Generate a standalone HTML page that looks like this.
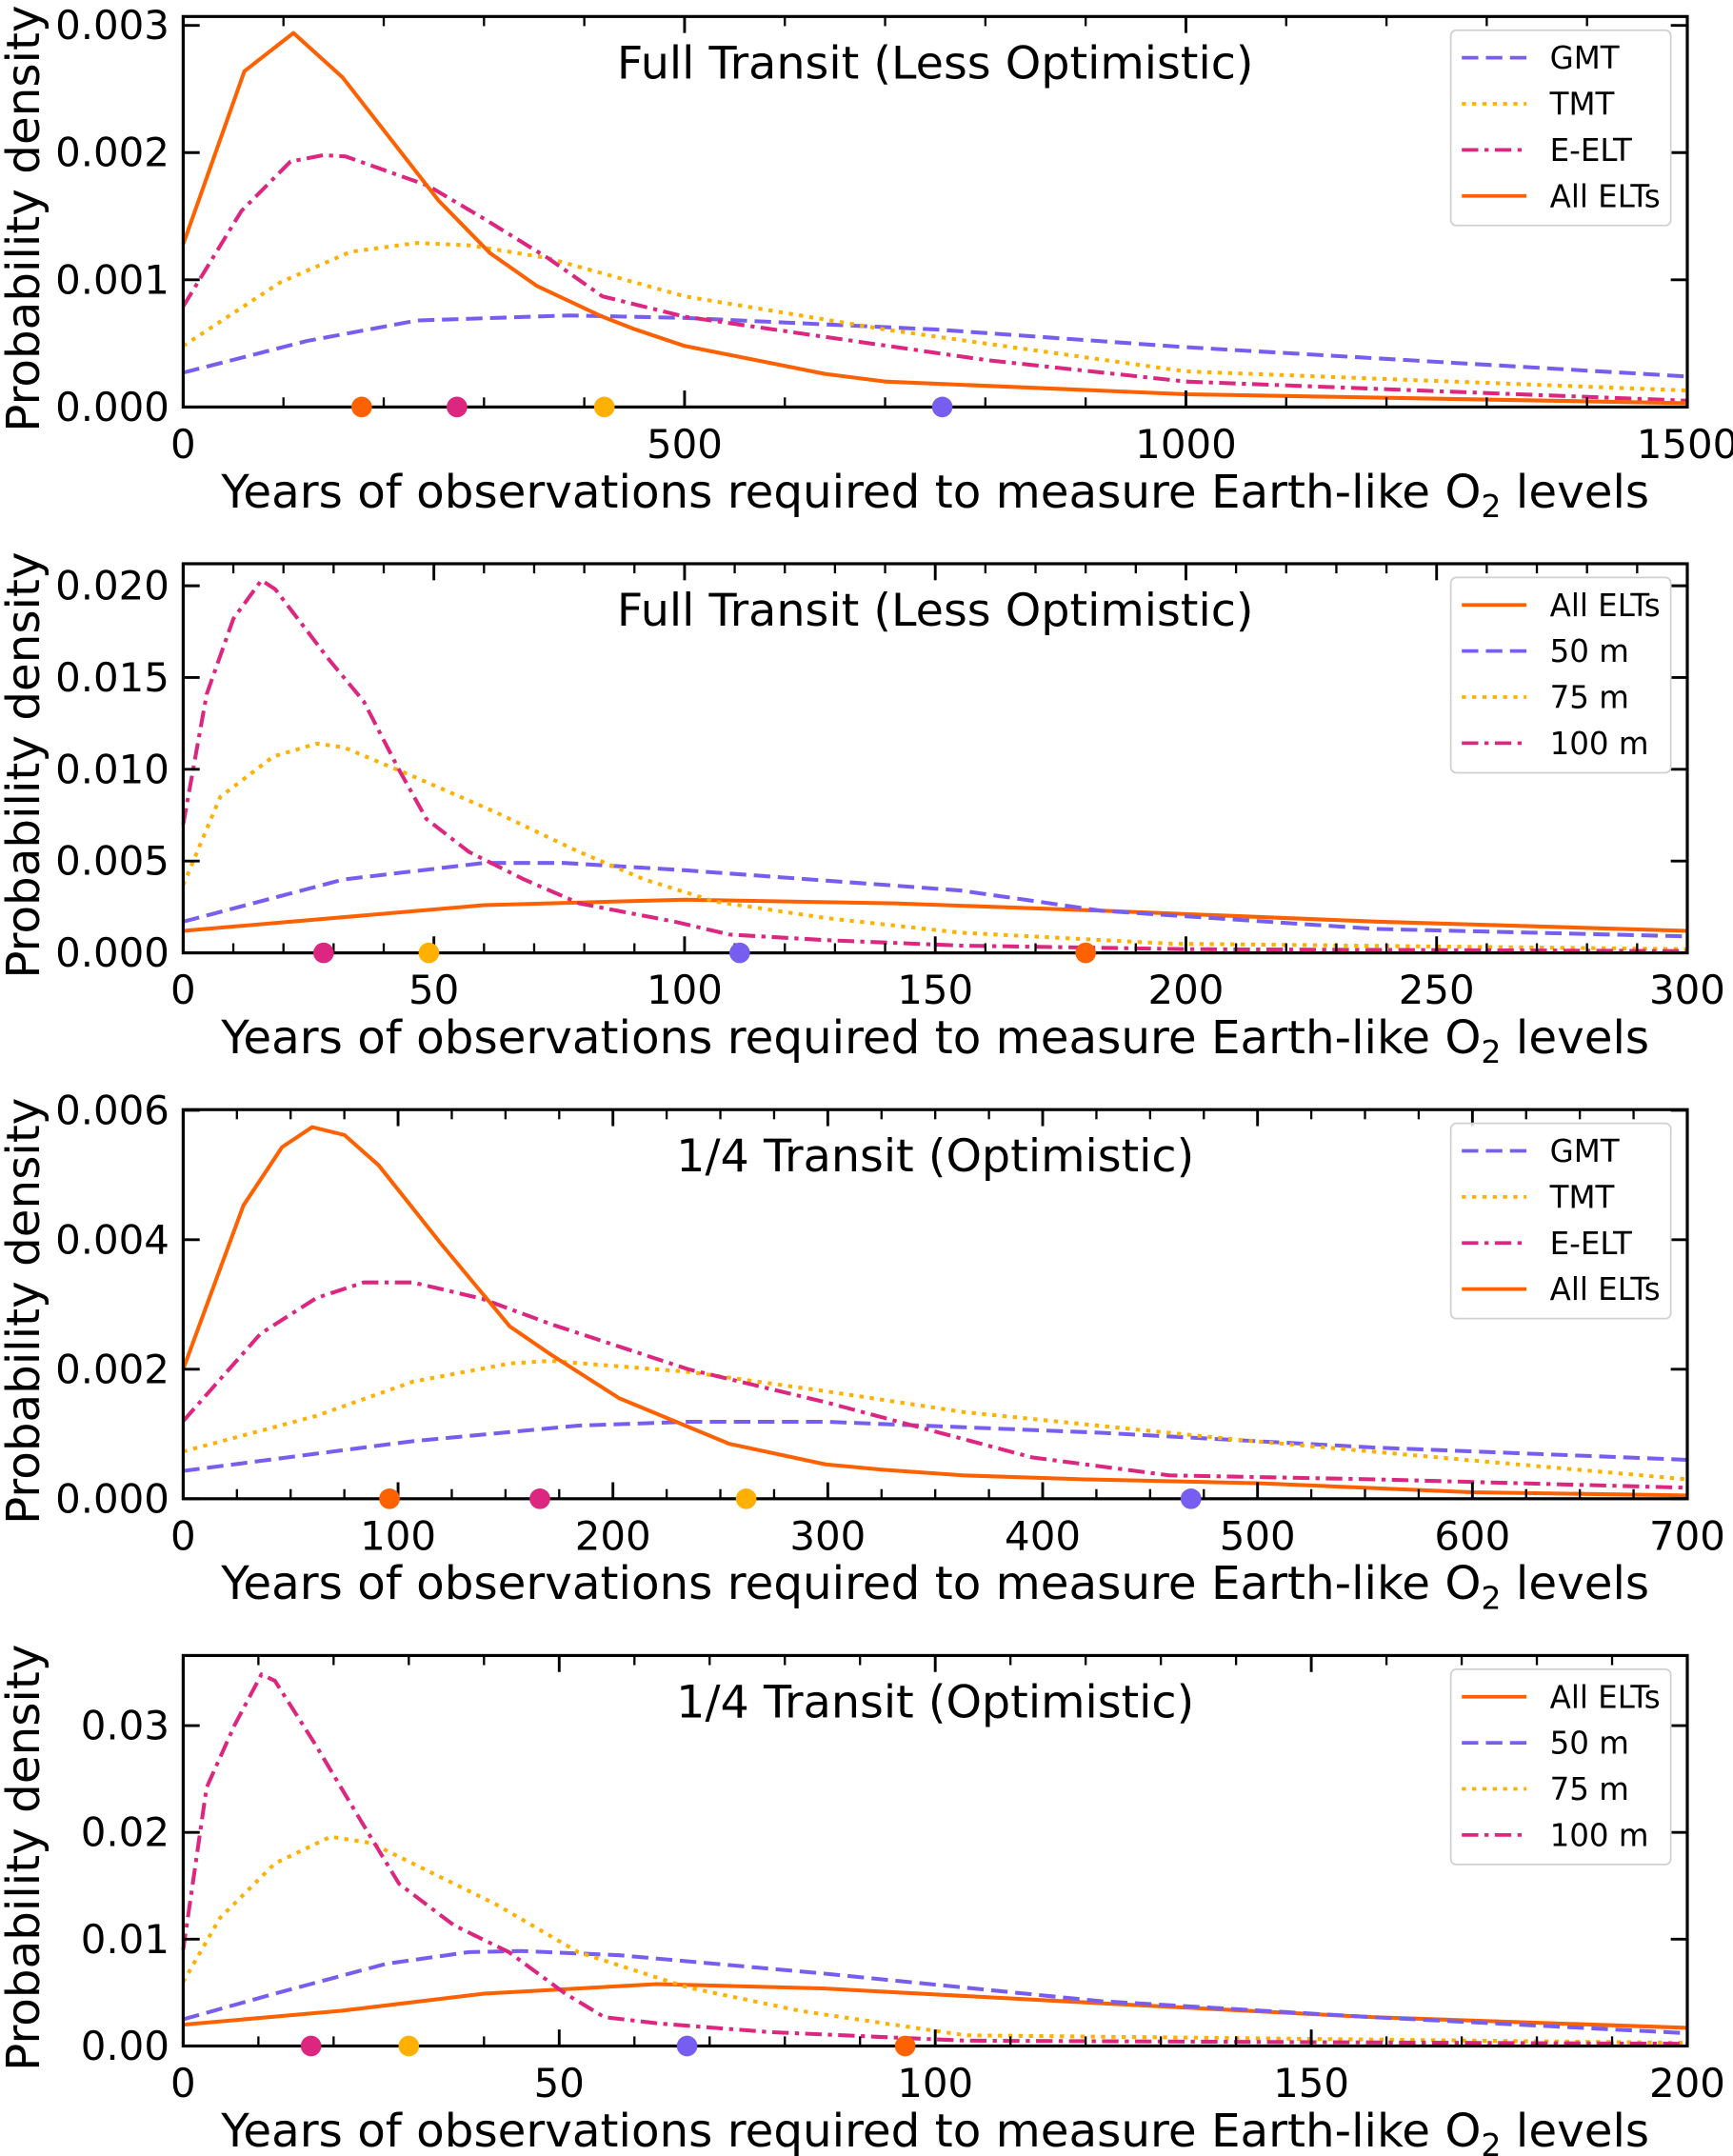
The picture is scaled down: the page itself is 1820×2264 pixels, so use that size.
<!DOCTYPE html>
<html><head><meta charset="utf-8">
<style>
html,body{margin:0;padding:0;background:#fff;}
svg{display:block;font-family:"DejaVu Sans","Liberation Sans",sans-serif;}
</style></head>
<body>
<svg id="fig" width="1820" height="2264" viewBox="0 0 1260 1568" xmlns="http://www.w3.org/2000/svg"></svg>
<script>
const p1_titles = "Full Transit (Less Optimistic)";
const p1_xticks = [0,500,1000,1500];
const p1_yticks = [0,0.001,0.002,0.003];
const p1_ytickLabels = ["0.000","0.001","0.002","0.003"];
const p1_gmt_x = [0,124,233,385,500,750,1000,1500];
const p1_gmt_y = [0.00027,0.00052,0.00068,0.00072,0.0007,0.00061,0.00047,0.00024];
const p1_tmt_x = [0,97,167,233,287,364,500,700,1000,1500];
const p1_tmt_y = [0.00048,0.00098,0.00122,0.00129,0.00127,0.00117,0.00087,0.00061,0.00028,0.00013];
const p1_eelt_x = [0,58,107,140,162,244,298,364,418,500,800,1000,1500];
const p1_eelt_y = [0.00079,0.00154,0.00193,0.00198,0.00197,0.00174,0.00149,0.00117,0.00087,0.00071,0.00037,0.0002,0.00005];
const p1_all_x = [0,61,110,159,255,306,353,418,451,500,640,700,1000,1500];
const p1_all_y = [0.00128,0.00264,0.00294,0.00259,0.00162,0.00121,0.00095,0.00071,0.00061,0.00048,0.00026,0.0002,0.0001,0.00003];
const p1_markers = [178,273,420,757];

const p2_xticks = [0,50,100,150,200,250,300];
const p2_yticks = [0,0.005,0.010,0.015,0.020];
const p2_ytickLabels = ["0.000","0.005","0.010","0.015","0.020"];
const p2_all_x = [0,60,100,142,183,238,300];
const p2_all_y = [0.0012,0.0026,0.0029,0.0027,0.0023,0.0017,0.0012];
const p2_50_x = [0,32,60,76,100,155,183,238,300];
const p2_50_y = [0.0017,0.004,0.0049,0.0049,0.0045,0.0034,0.0023,0.0013,0.0009];
const p2_75_x = [0,7.4,18,26.6,32,46,62,79,92,106,128,155,197,300];
const p2_75_y = [0.0037,0.0085,0.0107,0.0114,0.0112,0.0096,0.0077,0.0055,0.004,0.0028,0.0019,0.0011,0.0005,0.0002];
const p2_100_x = [0,4.7,10,15.6,18.4,29,36,43,48.5,57,68,79,98,109,128,155,200,300];
const p2_100_y = [0.007,0.0141,0.0182,0.0203,0.0198,0.016,0.0137,0.01,0.0073,0.0055,0.004,0.0027,0.0017,0.001,0.0007,0.0004,0.0002,0.0001];
const p2_markers = [180,111,49,28];

const p3_xticks = [0,100,200,300,400,500,600,700];
const p3_yticks = [0,0.002,0.004,0.006];
const p3_ytickLabels = ["0.000","0.002","0.004","0.006"];
const p3_gmt_x = [0,107,184,235,299,427,555,700];
const p3_gmt_y = [0.00043,0.00089,0.00113,0.00119,0.00119,0.00102,0.00079,0.0006];
const p3_tmt_x = [0,62,107,152,171,235,299,363,491,700];
const p3_tmt_y = [0.00073,0.00128,0.00181,0.00209,0.00213,0.00196,0.00166,0.00134,0.00091,0.0003];
const p3_eelt_x = [0,36,62,84,107,139,171,235,299,395,459,555,700];
const p3_eelt_y = [0.0012,0.00255,0.0031,0.00334,0.00334,0.00309,0.0027,0.002,0.00149,0.00064,0.00036,0.0003,0.00017];
const p3_all_x = [0,28,46,60,75,91,120,152,171,203,254,299,325,363,420,500,600,700];
const p3_all_y = [0.002,0.00453,0.00543,0.00574,0.00562,0.00515,0.00394,0.00266,0.00223,0.00155,0.00085,0.00053,0.00045,0.00036,0.0003,0.00024,0.0001,0.00005];
const p3_markers = [96,166,262,469];

const p4_xticks = [0,50,100,150,200];
const p4_yticks = [0,0.01,0.02,0.03];
const p4_ytickLabels = ["0.00","0.01","0.02","0.03"];
const p4_all_x = [0,21,40,63,85,122,158,200];
const p4_all_y = [0.002,0.0033,0.0049,0.0058,0.0054,0.004,0.0027,0.0017];
const p4_50_x = [0,12.2,27,38,45,58,85,122,158,200];
const p4_50_y = [0.0025,0.0049,0.0077,0.0088,0.0089,0.0085,0.0068,0.0042,0.0027,0.0012];
const p4_75_x = [0,4.9,12.2,19.6,25,30.5,41.5,52.5,67,82,104,200];
const p4_75_y = [0.006,0.012,0.0171,0.0196,0.019,0.0171,0.0133,0.0088,0.0055,0.0033,0.001,0.0003];
const p4_100_x = [0,3.1,6.8,10.4,12.2,17.7,23.2,28.7,36,43.3,50.8,56,63.4,78,104,200];
const p4_100_y = [0.009,0.0242,0.03,0.0348,0.0342,0.0281,0.0216,0.0152,0.0113,0.0088,0.0049,0.0027,0.0021,0.0013,0.0005,0.0002];
const p4_markers = [96,67,30,17];

const C = {orange:"#fe6100", pink:"#dc267f", yellow:"#ffb000", blue:"#785ef0"};
const DASH = {solid:null, dashed:"12,5.5", dotted:"3,4.5", dashdot:"12,4.5,3,4.5"};
const NS = "http://www.w3.org/2000/svg";
const svg = document.getElementById('fig');
function mk(tag, attrs, parent){
  const e = document.createElementNS(NS, tag);
  for (const k in attrs) e.setAttribute(k, attrs[k]);
  (parent||svg).appendChild(e);
  return e;
}

function panel(idx, top, bottom, xmax, ymax, xticks, minorStep, yticks, ylabels, title, series, markers, legend){
  const L = 133, R = 1227;
  const g = mk('g', {});
  
  
  const X = v => L + (v / xmax) * (R - L);
  const Y = v => bottom - (v / ymax) * (bottom - top);
  series.forEach(s => {
    const pts = s.x.map((xv,i)=> X(xv).toFixed(1)+','+Y(s.y[i]).toFixed(1)).join(' ');
    const pl = mk('polyline', {points:pts, fill:'none', stroke:s.color, 'stroke-width':2.8, 'stroke-linejoin':'round'}, g);
    if (DASH[s.style]) pl.setAttribute('stroke-dasharray', DASH[s.style]);
    
    
  });
  const fr = mk('rect', {x:L, y:top, width:R-L, height:bottom-top, fill:'none', stroke:'#000', 'stroke-width':2.2}, g);
  
  
  for (let v = 0; v <= xmax + 1e-9; v += minorStep){
    mk('line', {x1:X(v), x2:X(v), y1:bottom, y2:bottom-7, stroke:'#000', 'stroke-width':1.6}, g);
    mk('line', {x1:X(v), x2:X(v), y1:top, y2:top+7, stroke:'#000', 'stroke-width':1.6}, g);
  }
  xticks.forEach(v => {
    mk('line', {x1:X(v), x2:X(v), y1:bottom, y2:bottom-12, stroke:'#000', 'stroke-width':2}, g);
    mk('line', {x1:X(v), x2:X(v), y1:top, y2:top+12, stroke:'#000', 'stroke-width':2}, g);
    const t = mk('text', {x:X(v), y:bottom+37, 'font-size':29, 'text-anchor':'middle', fill:'#000'}, g);
    t.textContent = v;
    
    
  });
  yticks.forEach((v,i) => {
    mk('line', {x1:L, x2:L+12, y1:Y(v), y2:Y(v), stroke:'#000', 'stroke-width':2}, g);
    mk('line', {x1:R, x2:R-12, y1:Y(v), y2:Y(v), stroke:'#000', 'stroke-width':2}, g);
    const t = mk('text', {x:L-10, y:Y(v)+10, 'font-size':29, 'text-anchor':'end', fill:'#000'}, g);
    t.textContent = ylabels[i];
    
    
  });
  markers.forEach(m => {
    const c = mk('circle', {cx:X(m.v), cy:bottom, r:7.5, fill:m.color}, g);
    
    
  });
  const tt = mk('text', {x:680, y:top+45, 'font-size':33, 'text-anchor':'middle', fill:'#000'}, g);
  tt.textContent = title;
  
  
  const xl = mk('text', {x:680, y:bottom+73, 'font-size':33.5, 'text-anchor':'middle', fill:'#000'}, g);
  
  
  xl.appendChild(document.createTextNode('Years of observations required to measure Earth-like O'));
  const sub = mk('tspan', {'font-size':23, dy:7}, xl); sub.textContent = '2';
  const rest = mk('tspan', {dy:-7}, xl); rest.textContent = ' levels';
  const cy = (top+bottom)/2 + 5;
  const yl = mk('text', {x:0, y:0, 'font-size':33.5, 'text-anchor':'middle', fill:'#000', transform:`translate(28,${cy}) rotate(-90)`}, g);
  yl.textContent = 'Probability density';
  
  
  const lg = mk('g', {}, g);
  
  
  mk('rect', {x:1055, y:top+10, width:160, height:142, rx:4, fill:'#fff', 'fill-opacity':0.85, stroke:'#d0d0d0', 'stroke-width':1.2}, lg);
  legend.forEach((s,i) => {
    const yy = top + 30 + i*33.5;
    const ln = mk('line', {x1:1063, x2:1110, y1:yy, y2:yy, stroke:s.color, 'stroke-width':2.6}, lg);
    if (DASH[s.style]) ln.setAttribute('stroke-dasharray', DASH[s.style]);
    const t = mk('text', {x:1127, y:yy+8, 'font-size':22.5, fill:'#000'}, lg);
    t.textContent = s.name;
    
    
  });
}

const S = (name,x,y,color,style)=>({name,x,y,color,style});

{
  const gmt = S('GMT',p1_gmt_x,p1_gmt_y,C.blue,'dashed');
  const tmt = S('TMT',p1_tmt_x,p1_tmt_y,C.yellow,'dotted');
  const ee = S('E-ELT',p1_eelt_x,p1_eelt_y,C.pink,'dashdot');
  const all = S('All ELTs',p1_all_x,p1_all_y,C.orange,'solid');
  panel(1, 12, 296, 1500, 0.00307, p1_xticks, 100, p1_yticks, p1_ytickLabels, p1_titles,
    [gmt,tmt,ee,all],
    [{v:p1_markers[0],color:C.orange},{v:p1_markers[1],color:C.pink},{v:p1_markers[2],color:C.yellow},{v:p1_markers[3],color:C.blue}],
    [gmt,tmt,ee,all]);
}
{
  const all = S('All ELTs',p2_all_x,p2_all_y,C.orange,'solid');
  const m50 = S('50 m',p2_50_x,p2_50_y,C.blue,'dashed');
  const m75 = S('75 m',p2_75_x,p2_75_y,C.yellow,'dotted');
  const m100 = S('100 m',p2_100_x,p2_100_y,C.pink,'dashdot');
  panel(2, 410, 693, 300, 0.0212, p2_xticks, 10, p2_yticks, p2_ytickLabels, "Full Transit (Less Optimistic)",
    [all,m50,m75,m100],
    [{v:p2_markers[0],color:C.orange},{v:p2_markers[1],color:C.blue},{v:p2_markers[2],color:C.yellow},{v:p2_markers[3],color:C.pink}],
    [all,m50,m75,m100]);
}
{
  const gmt = S('GMT',p3_gmt_x,p3_gmt_y,C.blue,'dashed');
  const tmt = S('TMT',p3_tmt_x,p3_tmt_y,C.yellow,'dotted');
  const ee = S('E-ELT',p3_eelt_x,p3_eelt_y,C.pink,'dashdot');
  const all = S('All ELTs',p3_all_x,p3_all_y,C.orange,'solid');
  panel(3, 807, 1090, 700, 0.00601, p3_xticks, 25, p3_yticks, p3_ytickLabels, "1/4 Transit (Optimistic)",
    [gmt,tmt,ee,all],
    [{v:p3_markers[0],color:C.orange},{v:p3_markers[1],color:C.pink},{v:p3_markers[2],color:C.yellow},{v:p3_markers[3],color:C.blue}],
    [gmt,tmt,ee,all]);
}
{
  const all = S('All ELTs',p4_all_x,p4_all_y,C.orange,'solid');
  const m50 = S('50 m',p4_50_x,p4_50_y,C.blue,'dashed');
  const m75 = S('75 m',p4_75_x,p4_75_y,C.yellow,'dotted');
  const m100 = S('100 m',p4_100_x,p4_100_y,C.pink,'dashdot');
  panel(4, 1204, 1488, 200, 0.03657, p4_xticks, 10, p4_yticks, p4_ytickLabels, "1/4 Transit (Optimistic)",
    [all,m50,m75,m100],
    [{v:p4_markers[0],color:C.orange},{v:p4_markers[1],color:C.blue},{v:p4_markers[2],color:C.yellow},{v:p4_markers[3],color:C.pink}],
    [all,m50,m75,m100]);
}
</script>
</body></html>
